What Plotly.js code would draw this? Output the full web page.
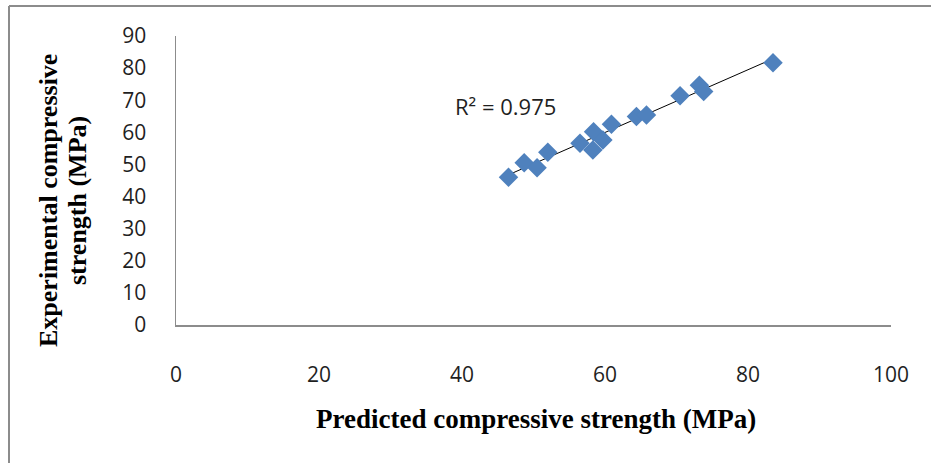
<!DOCTYPE html>
<html>
<head>
<meta charset="utf-8">
<script src="https://cdn.plot.ly/plotly-3.0.1.min.js"></script>
<style>html,body{margin:0;padding:0;background:#fff;}#chart{width:931px;height:463px;}</style>
</head>
<body>
<div id="chart"></div>
<script>
const predicted = [46.5, 48.7, 50.5, 52.0, 56.5, 58.3, 58.4, 59.7, 60.9, 64.4, 65.8, 70.5, 73.2, 73.8, 83.5];
const experimental = [46.0, 50.5, 49.0, 53.8, 56.6, 54.5, 60.2, 57.6, 62.5, 64.9, 65.4, 71.4, 74.7, 72.7, 81.7];
const xTicks = [0, 20, 40, 60, 80, 100];
const yTicks = [0, 10, 20, 30, 40, 50, 60, 70, 80, 90];
const r2Label = 'R² = 0.975';
const xTitle = 'Predicted compressive strength (MPa)';
const yTitleLines = ['Experimental compressive', 'strength (MPa)'];

// least-squares trendline from the data
const n = predicted.length;
const mx = predicted.reduce((a,b)=>a+b,0)/n;
const my = experimental.reduce((a,b)=>a+b,0)/n;
let sxy = 0, sxx = 0;
for (let i=0;i<n;i++){ sxy += (predicted[i]-mx)*(experimental[i]-my); sxx += (predicted[i]-mx)**2; }
const slope = sxy/sxx, icpt = my - slope*mx;
const xmin = Math.min(...predicted), xmax = Math.max(...predicted);
const trendX = [xmin, xmax];
const trendY = trendX.map(v => icpt + slope*v);

const W = 931, H = 463;
const M = {l:176, r:40, t:36, b:138};
const pw = W - M.l - M.r, ph = H - M.t - M.b;
const px = x => (x - M.l)/pw;
const py = y => (H - M.b - y)/ph;

const tickFont = {family:'Open Sans, sans-serif', size:21, color:'#1f1f1f'};
const titleFont = {family:'Liberation Serif, Times New Roman, serif', size:26, color:'#000'};

const data = [
  {x: trendX, y: trendY, mode:'lines', line:{color:'#000', width:1}, hoverinfo:'skip', showlegend:false},
  {x: predicted, y: experimental, mode:'markers', type:'scatter',
   marker:{symbol:'diamond', size:15, color:'#4F81BD', line:{width:0}}, showlegend:false}
];

const layout = {
  width: W, height: H,
  margin: M,
  paper_bgcolor:'#fff', plot_bgcolor:'#fff',
  showlegend:false,
  xaxis:{range:[0,100], tickvals:xTicks, ticktext:xTicks.map(String), showgrid:false, zeroline:false,
         showline:true, linecolor:'#8c8c8c', linewidth:1.5, ticks:'', ticklabelstandoff:30,
         tickfont:tickFont, fixedrange:true},
  yaxis:{range:[0,90], tickvals:yTicks, ticktext:yTicks.map(String), showgrid:false, zeroline:false,
         showline:true, linecolor:'#8c8c8c', linewidth:1.5, ticks:'', ticklabelstandoff:24,
         tickfont:tickFont, fixedrange:true},
  annotations:[
    {xref:'paper', yref:'paper', x:px(505), y:py(106), text:r2Label, showarrow:false,
     font:Object.assign({}, tickFont, {size:22}), xanchor:'center', yanchor:'middle'},
    {xref:'paper', yref:'paper', x:px(536), y:py(419), text:'<b>'+xTitle+'</b>', showarrow:false,
     font:Object.assign({}, titleFont, {size:27}), xanchor:'center', yanchor:'middle'},
    {xref:'paper', yref:'paper', x:px(48), y:py(201), text:'<b>'+yTitleLines[0]+'</b>', showarrow:false,
     font:titleFont, textangle:-90, xanchor:'center', yanchor:'middle'},
    {xref:'paper', yref:'paper', x:px(77), y:py(201), text:'<b>'+yTitleLines[1]+'</b>', showarrow:false,
     font:titleFont, textangle:-90, xanchor:'center', yanchor:'middle'}
  ],
  shapes:[
    {type:'line', xref:'paper', yref:'paper', x0:px(9), x1:px(9), y0:py(6), y1:py(H+10), line:{color:'#8c8c8c', width:2}},
    {type:'line', xref:'paper', yref:'paper', x0:px(9), x1:px(W+10), y0:py(6), y1:py(6), line:{color:'#8c8c8c', width:2}}
  ]
};

Plotly.newPlot('chart', data, layout, {displayModeBar:false, staticPlot:true});
</script>
</body>
</html>
